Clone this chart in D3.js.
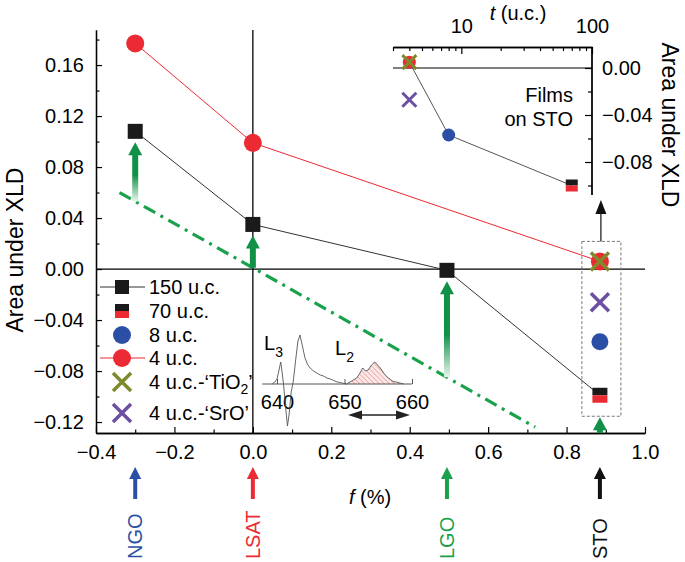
<!DOCTYPE html>
<html><head><meta charset="utf-8">
<script src="https://cdn.jsdelivr.net/npm/d3@7"></script>
<style>body{margin:0;background:#fff} svg{display:block;font-family:"Liberation Sans",Arial,sans-serif}</style>
</head><body><svg id="c" width="685" height="562"></svg>
<script>
// ---------- data ----------
const substrates = ["NGO", "LSAT", "LGO", "STO"];
const substrateF = [-0.3, 0.0, 0.495, 0.885];
const f150 = [-0.3, 0.0, 0.495];
const v150 = [0.108, 0.035, -0.001];
const f70 = [0.885];
const v70 = [-0.099];
const f8 = [0.885];
const v8 = [-0.057];
const f4 = [-0.3, 0.0, 0.885];
const v4 = [0.177, 0.099, 0.006];
const fTiO2 = [0.885];
const vTiO2 = [0.006];
const fSrO = [0.885];
const vSrO = [-0.026];
const fModel = [-0.34, 0.72];
const vModel = [0.060, -0.124];
const xTicksMajor = [-0.4, -0.2, 0.0, 0.2, 0.4, 0.6, 0.8, 1.0];
const yTicksMajor = [-0.12, -0.08, -0.04, 0.00, 0.04, 0.08, 0.12, 0.16];
// inset (films on STO)
const tInset = [4, 8, 70];
const vInset = [0.005, -0.057, -0.100];
const tTiO2 = [4];
const vTiO2in = [0.005];
const tSrO = [4];
const vSrOin = [-0.027];
const tTicksMajor = [10, 100];
const vInsetTicks = [0.00, -0.04, -0.08];
// spectrum inset (XLD, photon energy eV)
const specE = [639.3, 639.7, 640.0, 640.3, 640.55, 640.75, 640.95, 641.3, 641.55, 641.8, 642.1, 642.4, 642.8, 643.1, 643.4, 643.7, 644.15, 644.5, 644.9, 645.4, 645.9, 646.4, 646.9, 647.4, 647.9, 648.4, 648.9, 649.4, 649.9, 650.3];
const specI = [0, 0.2, 0.5, 1.4, 2.2, 1.2, 0.1, -2.5, -4.2, -3.0, -0.8, 0.2, 2.6, 4.3, 4.9, 4.0, 2.6, 2.0, 1.6, 1.3, 1.1, 0.9, 0.8, 0.6, 0.5, 0.35, 0.2, 0.15, 0.05, 0];
const specL2E = [650.3, 650.8, 651.3, 651.8, 652.3, 652.7, 653.1, 653.5, 654.0, 654.5, 654.9, 655.3, 655.8, 656.3, 656.8, 657.2, 657.7, 658.2, 658.8];
const specL2I = [0, 0.2, 0.4, 0.6, 1.1, 1.6, 1.3, 1.4, 1.9, 2.2, 1.9, 1.6, 1.1, 0.7, 0.45, 0.25, 0.2, 0.1, 0];
const eTicks = [640, 650, 660];
const legendLabels = ["150 u.c.", "70 u.c.", "8 u.c.", "4 u.c.", "4 u.c.-‘TiO", "4 u.c.-‘SrO’"];

// ---------- styles ----------
const RED = "#ec2a33", BLUE = "#2b4fa5", OLIVE = "#7e8a2c", PURPLE = "#6c4fa1", GREEN = "#109147", DGREEN = "#1aa14c";
const FS = 20, FT = 23;

const svg = d3.select("#c");
const defs = svg.append("defs");

const x = d3.scaleLinear().domain([-0.4, 1.0]).range([96, 645]);
const y = d3.scaleLinear().domain([-0.1286, 0.1875]).range([433, 30]);

function styleAxis(g) {
  g.selectAll("path.domain").attr("stroke", "#000").attr("stroke-width", 1.3);
  g.selectAll(".tick line").attr("stroke", "#000").attr("stroke-width", 1.2);
  g.selectAll("text").attr("font-size", FS).attr("fill", "#000").attr("font-family", "Liberation Sans, Arial, sans-serif");
}

// minor ticks
const xMinor = d3.range(-0.4, 1.0001, 0.1).map(d => +d.toFixed(2)).filter(d => !xTicksMajor.some(m => Math.abs(m - d) < 1e-6));
const yMinor = d3.range(-0.12, 0.1801, 0.02).map(d => +d.toFixed(2)).filter(d => !yTicksMajor.some(m => Math.abs(m - d) < 1e-6));

// x axis
svg.append("g").attr("transform", "translate(0,433)")
  .call(d3.axisBottom(x).tickValues(xMinor).tickSizeInner(-3.5).tickSizeOuter(0).tickFormat(""))
  .call(styleAxis);
svg.append("g").attr("transform", "translate(0,433)")
  .call(d3.axisBottom(x).tickValues(xTicksMajor).tickSizeInner(-6).tickSizeOuter(0).tickPadding(12).tickFormat(d3.format(".1f")))
  .call(styleAxis);
// y axis
svg.append("g").attr("transform", "translate(96,0)")
  .call(d3.axisLeft(y).tickValues(yMinor).tickSizeInner(-3.5).tickSizeOuter(0).tickFormat(""))
  .call(styleAxis);
svg.append("g").attr("transform", "translate(96,0)")
  .call(d3.axisLeft(y).tickValues(yTicksMajor).tickSizeInner(-6).tickSizeOuter(0).tickPadding(12).tickFormat(d3.format(".2f")))
  .call(styleAxis);

svg.append("text").attr("transform", `translate(23,250) rotate(-90)`).attr("text-anchor", "middle")
  .attr("font-size", FT).text("Area under XLD");
const fl = svg.append("text").attr("x", 370).attr("y", 504).attr("text-anchor", "middle").attr("font-size", FS);
fl.append("tspan").attr("font-style", "italic").text("f");
fl.append("tspan").text(" (%)");

// zero lines
svg.append("line").attr("x1", x(-0.4)).attr("x2", x(1.0)).attr("y1", y(0)).attr("y2", y(0)).attr("stroke", "#000").attr("stroke-width", 1.3);
svg.append("line").attr("x1", x(0)).attr("x2", x(0)).attr("y1", y.range()[1]).attr("y2", y.range()[0]).attr("stroke", "#000").attr("stroke-width", 1.3);

// ---------- spectrum inset ----------
const xe = d3.scaleLinear().domain([640, 660]).range([277, 412]);
const yi = d3.scaleLinear().domain([0, 1]).range([384, 374]);
const pat = defs.append("pattern").attr("id", "hatch").attr("width", 3.5).attr("height", 3.5)
  .attr("patternUnits", "userSpaceOnUse").attr("patternTransform", "rotate(-45)");
pat.append("rect").attr("width", 3.5).attr("height", 3.5).attr("fill", "#fde8e8");
pat.append("line").attr("x1", 0).attr("x2", 0).attr("y1", 0).attr("y2", 3.5).attr("stroke", "#e07777").attr("stroke-width", 1);
const l2pts = specL2E.map((e, i) => [e, specL2I[i]]);
svg.append("path").datum(l2pts).attr("fill", "url(#hatch)")
  .attr("d", d3.area().x(d => xe(d[0])).y0(yi(0)).y1(d => yi(d[1])));
svg.append("g").attr("transform", `translate(0,${yi(0)})`)
  .call(d3.axisBottom(xe).tickValues(eTicks).tickSizeInner(-5).tickSizeOuter(0).tickPadding(11).tickFormat(d3.format("d")))
  .call(g => g.select("path.domain").attr("d", `M${xe(637.8)},0H${xe(660)}`))
  .call(styleAxis)
  .call(g => g.selectAll("path.domain,.tick line").attr("stroke", "#444").attr("stroke-width", 0.9));
const specLine = d3.line().x(d => xe(d[0])).y(d => yi(d[1]));
svg.append("path").datum(specE.map((e, i) => [e, specI[i]])).attr("fill", "none").attr("stroke", "#555").attr("stroke-width", 0.9).attr("d", specLine);
svg.append("path").datum(l2pts).attr("fill", "none").attr("stroke", "#555").attr("stroke-width", 0.9).attr("d", specLine);
const L3 = svg.append("text").attr("x", 264).attr("y", 350).attr("font-size", FS);
L3.append("tspan").text("L");
L3.append("tspan").attr("font-size", 14).attr("dy", 7).text("3");
const L2 = svg.append("text").attr("x", 335).attr("y", 355).attr("font-size", FS);
L2.append("tspan").text("L");
L2.append("tspan").attr("font-size", 14).attr("dy", 7).text("2");
// double arrow
function tri(g, tipX, tipY, dir, len, half, color) { // dir: "l","r","u"
  let p;
  if (dir === "l") p = [[tipX, tipY], [tipX + len, tipY - half], [tipX + len, tipY + half]];
  else if (dir === "r") p = [[tipX, tipY], [tipX - len, tipY - half], [tipX - len, tipY + half]];
  else p = [[tipX, tipY], [tipX - half, tipY + len], [tipX + half, tipY + len]];
  g.append("path").attr("d", "M" + p.join("L") + "Z").attr("fill", color);
}
svg.append("line").attr("x1", 355).attr("x2", 402).attr("y1", 415).attr("y2", 415).attr("stroke", "#222").attr("stroke-width", 1.5);
tri(svg, 348, 415, "l", 14, 4.5, "#222");
tri(svg, 410, 415, "r", 14, 4.5, "#222");

// ---------- model dash-dot line ----------
svg.append("path").datum(fModel.map((f, i) => [f, vModel[i]])).attr("fill", "none")
  .attr("stroke", DGREEN).attr("stroke-width", 3.2).attr("stroke-dasharray", "13,6,3,6")
  .attr("d", d3.line().x(d => x(d[0])).y(d => y(d[1])));

// ---------- green arrows (model -> measured 150/70 u.c.) ----------
const measured = [v150[0], v150[1], v150[2], v70[0]];
const modelAt = f => vModel[0] + (vModel[1] - vModel[0]) * (f - fModel[0]) / (fModel[1] - fModel[0]);
substrateF.forEach((f, i) => {
  const cx = x(f);
  const y0 = Math.min(y(modelAt(f)), y.range()[0]);
  const tipY = y(measured[i]) + (i === 3 ? 22 : 11);
  const len = y0 - tipY;
  const gid = "gg" + i;
  const grad = defs.append("linearGradient").attr("id", gid).attr("gradientUnits", "userSpaceOnUse")
    .attr("x1", 0).attr("x2", 0).attr("y1", tipY).attr("y2", y0);
  const fade = len > 45;
  grad.append("stop").attr("offset", 0).attr("stop-color", GREEN);
  grad.append("stop").attr("offset", fade ? 0.55 : 1).attr("stop-color", GREEN);
  grad.append("stop").attr("offset", 1).attr("stop-color", fade ? "#e8f5ec" : GREEN);
  const hw = 7, sw = 3, hl = 13;
  const pts = [[cx, tipY], [cx + hw, tipY + hl], [cx + sw, tipY + hl], [cx + sw, y0], [cx - sw, y0], [cx - sw, tipY + hl], [cx - hw, tipY + hl]];
  svg.append("path").attr("d", "M" + pts.join("L") + "Z").attr("fill", `url(#${gid})`);
});

// ---------- STO box & arrow to inset ----------
const boxTop = y(vTiO2[0]) - 20, boxBot = y(v70[0]) + 21;
svg.append("rect").attr("x", x(0.885) - 18).attr("y", boxTop).attr("width", 39).attr("height", boxBot - boxTop)
  .attr("fill", "none").attr("stroke", "#777").attr("stroke-width", 1).attr("stroke-dasharray", "3,2");
svg.append("line").attr("x1", x(0.885) + 1).attr("x2", x(0.885) + 1).attr("y1", boxTop).attr("y2", 212).attr("stroke", "#111").attr("stroke-width", 1.2);
tri(svg, x(0.885) + 1, 200, "u", 14, 5.5, "#111");

// ---------- series lines ----------
const line = d3.line().x(d => x(d[0])).y(d => y(d[1]));
svg.append("path").datum(f4.map((f, i) => [f, v4[i]])).attr("fill", "none").attr("stroke", RED).attr("stroke-width", 1).attr("d", line);
svg.append("path").datum(f150.map((f, i) => [f, v150[i]]).concat([[f70[0], v70[0]]])).attr("fill", "none").attr("stroke", "#333").attr("stroke-width", 1).attr("d", line);

// markers
function square(g, cx, cy, s) {
  g.append("rect").attr("x", cx - s / 2).attr("y", cy - s / 2).attr("width", s).attr("height", s).attr("fill", "#1a1a1a");
}
function halfSquare(g, cx, cy, s) {
  g.append("rect").attr("x", cx - s / 2).attr("y", cy - s / 2).attr("width", s).attr("height", s / 2).attr("fill", "#1a1a1a");
  g.append("rect").attr("x", cx - s / 2).attr("y", cy).attr("width", s).attr("height", s / 2).attr("fill", RED);
}
function circle(g, cx, cy, r, c) { g.append("circle").attr("cx", cx).attr("cy", cy).attr("r", r).attr("fill", c); }
function cross(g, cx, cy, h, c, w) {
  g.append("path").attr("d", `M${cx - h},${cy - h}L${cx + h},${cy + h}M${cx - h},${cy + h}L${cx + h},${cy - h}`)
    .attr("stroke", c).attr("stroke-width", w).attr("fill", "none");
}
f4.forEach((f, i) => circle(svg, x(f), y(v4[i]), 9, RED));
f150.forEach((f, i) => square(svg, x(f), y(v150[i]), 15));
f70.forEach((f, i) => halfSquare(svg, x(f), y(v70[i]), 15));
f8.forEach((f, i) => circle(svg, x(f), y(v8[i]), 8.5, BLUE));
fSrO.forEach((f, i) => cross(svg, x(f), y(vSrO[i]), 9, PURPLE, 3.5));
fTiO2.forEach((f, i) => cross(svg, x(f), y(vTiO2[i]), 9, OLIVE, 3.5));

// ---------- legend ----------
const lgY = [287, 311, 335, 358, 382, 413];
const lgX = 122;
const lg = svg.append("g");
lg.append("line").attr("x1", 100).attr("x2", 145).attr("y1", lgY[0]).attr("y2", lgY[0]).attr("stroke", "#333").attr("stroke-width", 1);
square(lg, lgX, lgY[0], 14);
halfSquare(lg, lgX, lgY[1], 14);
circle(lg, lgX, lgY[2], 9, BLUE);
lg.append("line").attr("x1", 100).attr("x2", 145).attr("y1", lgY[3]).attr("y2", lgY[3]).attr("stroke", RED).attr("stroke-width", 1);
circle(lg, lgX, lgY[3], 9, RED);
cross(lg, lgX, lgY[4], 9, OLIVE, 3.5);
cross(lg, lgX, lgY[5], 9, PURPLE, 3.5);
legendLabels.forEach((t, i) => {
  const tx = lg.append("text").attr("x", 149).attr("y", lgY[i] + 7).attr("font-size", FS).text(t);
  if (i === 4) {
    tx.append("tspan").attr("font-size", 14).attr("dy", 5).text("2");
    tx.append("tspan").attr("dy", -5).text("’");
  }
});

// ---------- bottom substrate arrows ----------
const subColors = [BLUE, RED, DGREEN, "#111"];
substrates.forEach((s, i) => {
  const cx = x(substrateF[i]);
  svg.append("line").attr("x1", cx).attr("x2", cx).attr("y1", 478).attr("y2", 499).attr("stroke", subColors[i]).attr("stroke-width", 4);
  tri(svg, cx, 467, "u", 12, 6, subColors[i]);
  svg.append("text").attr("transform", `translate(${cx + 7},559) rotate(-90)`).attr("font-size", FS)
    .attr("fill", subColors[i]).text(s);
});

// ---------- inset: films on STO ----------
const tx = d3.scaleLog().domain([3, 100]).range([393, 592]);
const ty = d3.scaleLinear().domain([0, -0.04]).range([68, 115]);
const tMinor = [3, 4, 5, 6, 7, 8, 9, 20, 30, 40, 50, 60, 70, 80, 90];
svg.append("g").attr("transform", "translate(0,47)")
  .call(d3.axisTop(tx).tickValues(tMinor).tickSizeInner(-4).tickSizeOuter(0).tickFormat(""))
  .call(styleAxis);
svg.append("g").attr("transform", "translate(0,47)")
  .call(d3.axisTop(tx).tickValues(tTicksMajor).tickSizeInner(-7).tickSizeOuter(0).tickPadding(14).tickFormat(d3.format("d")))
  .call(styleAxis);
svg.append("g").attr("transform", "translate(592,0)")
  .call(d3.axisRight(ty).tickValues([-0.02, -0.06, -0.10]).tickSizeInner(-4).tickSizeOuter(0).tickFormat(""))
  .call(g => g.select("path.domain").attr("d", "M0,47V195"))
  .call(styleAxis);
svg.append("g").attr("transform", "translate(592,0)")
  .call(d3.axisRight(ty).tickValues(vInsetTicks).tickSizeInner(-7).tickSizeOuter(0).tickPadding(10).tickFormat(d3.format(".2f")))
  .call(g => g.select("path.domain").attr("d", "M0,47V195"))
  .call(styleAxis);
svg.append("line").attr("x1", 393).attr("x2", 592).attr("y1", ty(0)).attr("y2", ty(0)).attr("stroke", "#000").attr("stroke-width", 1.2);
const tt = svg.append("text").attr("x", 518).attr("y", 20).attr("text-anchor", "middle").attr("font-size", FS);
tt.append("tspan").attr("font-style", "italic").text("t");
tt.append("tspan").text(" (u.c.)");
svg.append("text").attr("transform", "translate(662,125) rotate(90)").attr("text-anchor", "middle").attr("font-size", FT).text("Area under XLD");
svg.append("text").attr("x", 573).attr("y", 102).attr("text-anchor", "end").attr("font-size", FS).text("Films");
svg.append("text").attr("x", 573).attr("y", 126).attr("text-anchor", "end").attr("font-size", FS).text("on STO");
svg.append("path").datum(tInset.map((t, i) => [t, vInset[i]])).attr("fill", "none").attr("stroke", "#555").attr("stroke-width", 1)
  .attr("d", d3.line().x(d => tx(d[0])).y(d => ty(d[1])));
circle(svg, tx(tInset[0]), ty(vInset[0]), 6.5, RED);
circle(svg, tx(tInset[1]), ty(vInset[1]), 6.5, BLUE);
halfSquare(svg, tx(tInset[2]), ty(vInset[2]), 12);
cross(svg, tx(tTiO2[0]), ty(vTiO2in[0]), 7, OLIVE, 3);
cross(svg, tx(tSrO[0]), ty(vSrOin[0]), 7, PURPLE, 3);
</script></body></html>
